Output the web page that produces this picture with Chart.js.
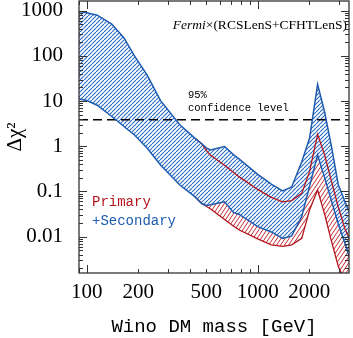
<!DOCTYPE html>
<html>
<head>
<meta charset="utf-8">
<script src="https://cdn.jsdelivr.net/npm/chart.js@4.4.1/dist/chart.umd.min.js"></script>
<style>
  html, body { margin: 0; padding: 0; background: #fff; }
</style>
</head>
<body>
<canvas id="chart" width="353" height="338"></canvas>
<script>
// ---- data ----
// Wino DM mass [GeV]
const mass = [90, 100, 115, 140, 165, 190, 225, 270, 350, 430, 470, 500, 530, 640, 720, 780,
              1000, 1200, 1400, 1580, 1810, 2010, 2240, 2460, 2700, 2960, 3240, 3500];
// Primary + Secondary band (blue)
const blueUpper = [960, 900, 795, 508, 250, 100, 38, 10.2, 3.0, 1.5, 1.14, 0.92, 0.83, 0.99, 0.655, 0.52,
                   0.24, 0.145, 0.103, 0.126, 0.456, 1.5, 23.5, 5.8, 1.0, 0.14, 0.059, 0.029];
const blueLower = [11.1, 10.3, 8.1, 4.56, 2.74, 1.78, 0.92, 0.385, 0.139, 0.076, 0.054, 0.049, 0.051, 0.059, 0.0345, 0.031,
                   0.0167, 0.0127, 0.0091, 0.0104, 0.028, 0.13, 0.64, 0.205, 0.062, 0.019, 0.0071, 0.0028];
// Primary band (red)
const massRed  = [430, 470, 500, 530, 640, 720, 780, 1000, 1200, 1400, 1580, 1810, 2010, 2240, 2460, 2700, 2960, 3240, 3500];
const redUpper = [1.5, 1.14, 0.81, 0.63, 0.38, 0.266, 0.21, 0.111, 0.074, 0.059, 0.063, 0.091, 0.274, 1.84, 0.65, 0.17, 0.045, 0.0148, 0.008];
const redLower = [0.076, 0.054, 0.047, 0.041, 0.024, 0.0172, 0.014, 0.0089, 0.0066, 0.0061, 0.0066, 0.0092, 0.039, 0.108, 0.032, 0.008, 0.0022, 0.001, 0.0006];

const xTicks = [100, 200, 500, 1000, 2000];
const yTicks = [0.01, 0.1, 1, 10, 100, 1000];
const xRange = [90, 3420];
const yRange = [0.00157, 1640];
const confLevel = 3.84;

const BLUE = "#1f5cb0";
const RED  = "#b3151d";

// hatch on white ground, so the band drawn on top hides the one below
function hatch(color, w, h, lw) {
    const c = document.createElement("canvas");
    c.width = w; c.height = h;
    const g = c.getContext("2d");
    g.fillStyle = "#fff";
    g.fillRect(0, 0, w, h);
    g.strokeStyle = color;
    g.lineWidth = lw;
    g.beginPath();
    for (const dx of [-w, 0, w]) {
        g.moveTo(dx, h);
        g.lineTo(dx + w, 0);
    }
    g.stroke();
    return g.createPattern(c, "repeat");
}

const pts = (xs, ys) => xs.map((m, i) => ({ x: m, y: ys[i] }));

// ---- inward ticks on all four sides, frame and text ----
const frameTicks = {
    id: "frameTicks",
    afterDatasetsDraw(chart) {
        const { ctx, chartArea: a, scales: { x, y } } = chart;
        ctx.save();
        ctx.strokeStyle = "#333";
        ctx.lineWidth = 1;
        const seg = (x1, y1, x2, y2) => { ctx.beginPath(); ctx.moveTo(x1, y1); ctx.lineTo(x2, y2); ctx.stroke(); };

        for (let d = Math.floor(Math.log10(x.min)); d <= Math.ceil(Math.log10(x.max)); d++) {
            for (let k = 1; k < 10; k++) {
                const v = k * Math.pow(10, d);
                if (v < x.min || v > x.max) continue;
                const px = Math.round(x.getPixelForValue(v)) + 0.5;
                const len = k === 1 ? 8 : 4;
                seg(px, a.bottom, px, a.bottom - len);
                seg(px, a.top, px, a.top + len);
            }
        }
        for (let d = Math.floor(Math.log10(y.min)); d <= Math.ceil(Math.log10(y.max)); d++) {
            for (let k = 1; k < 10; k++) {
                const v = k * Math.pow(10, d);
                if (v < y.min || v > y.max) continue;
                const py = Math.round(y.getPixelForValue(v)) + 0.5;
                const len = k === 1 ? 8 : 4;
                seg(a.left, py, a.left + len, py);
                seg(a.right, py, a.right - len, py);
            }
        }
        ctx.lineWidth = 1.3;
        ctx.strokeRect(a.left, a.top, a.right - a.left, a.bottom - a.top);
        ctx.restore();
    },
    afterDraw(chart) {
        const ctx = chart.ctx;
        ctx.save();
        ctx.textBaseline = "middle";
        ctx.textAlign = "left";

        // Fermi x (RCSLenS+CFHTLenS)
        const fItal = "italic 13.5px 'Liberation Serif'";
        const fRom  = "13.5px 'Liberation Serif'";
        const t1 = "Fermi", t2 = "\u00d7(RCSLenS+CFHTLenS)";
        ctx.font = fItal; const w1 = ctx.measureText(t1).width;
        ctx.font = fRom;  const w2 = ctx.measureText(t2).width;
        const x0 = 347 - w1 - w2;
        ctx.fillStyle = "#000";
        ctx.font = fItal; ctx.fillText(t1, x0, 25);
        ctx.font = fRom;  ctx.fillText(t2, x0 + w1, 25);

        ctx.font = "10.5px 'Liberation Mono'";
        ctx.fillText("95%", 188, 95);
        ctx.fillText("confidence level", 188, 108.5);

        ctx.font = "14px 'Liberation Mono'";
        ctx.fillStyle = RED;
        ctx.fillText("Primary", 92, 202);
        ctx.fillStyle = BLUE;
        ctx.fillText("+Secondary", 92, 221);
        ctx.restore();
    }
};

const ctx = document.getElementById("chart").getContext("2d");
new Chart(ctx, {
    type: "line",
    data: {
        datasets: [
            {
                label: "Primary+Secondary upper",
                data: pts(mass, blueUpper),
                borderColor: BLUE, borderWidth: 1.5,
                backgroundColor: hatch("#2a6cc4", 4, 4, 1.1),
                fill: "+1", pointRadius: 0, tension: 0
            },
            {
                label: "Primary+Secondary lower",
                data: pts(mass, blueLower),
                borderColor: BLUE, borderWidth: 1.5,
                fill: false, pointRadius: 0, tension: 0
            },
            {
                label: "Primary upper",
                data: pts(massRed, redUpper),
                borderColor: RED, borderWidth: 1.3,
                backgroundColor: hatch("#c42a32", 4, 6, 1.0),
                fill: "+1", pointRadius: 0, tension: 0
            },
            {
                label: "Primary lower",
                data: pts(massRed, redLower),
                borderColor: RED, borderWidth: 1.3,
                fill: false, pointRadius: 0, tension: 0
            },
            {
                label: "95% CL",
                data: [{ x: xRange[0], y: confLevel }, { x: xRange[1], y: confLevel }],
                borderColor: "#000", borderWidth: 1.5, borderDash: [9, 5],
                fill: false, pointRadius: 0
            }
        ]
    },
    options: {
        responsive: false,
        animation: false,
        layout: { padding: { top: 1, right: 4, left: 0, bottom: 0 } },
        plugins: {
            legend: { display: false },
            tooltip: { enabled: false },
            filler: { drawTime: "beforeDatasetsDraw" }
        },
        scales: {
            x: {
                type: "logarithmic",
                min: xRange[0], max: xRange[1],
                afterBuildTicks: s => { s.ticks = xTicks.map(v => ({ value: v })); },
                afterFit: s => { s.height = 65; s.paddingLeft = 0; s.paddingRight = 0; },
                grid: { display: false, drawTicks: false },
                border: { display: false },
                ticks: {
                    autoSkip: false, maxRotation: 0, padding: 7,
                    color: "#000",
                    font: { family: "'Liberation Serif'", size: 21 },
                    callback: v => String(v)
                },
                title: {
                    display: true, text: "Wino DM mass [GeV]", color: "#000",
                    font: { family: "'Liberation Mono'", size: 19 },
                    padding: { top: 0, bottom: 0 }
                }
            },
            y: {
                type: "logarithmic",
                min: yRange[0], max: yRange[1],
                afterBuildTicks: s => { s.ticks = yTicks.map(v => ({ value: v })); },
                afterFit: s => { s.width = 79; s.paddingTop = 0; s.paddingBottom = 0; },
                grid: { display: false, drawTicks: false },
                border: { display: false },
                ticks: {
                    autoSkip: false, padding: 16,
                    color: "#000",
                    font: { family: "'Liberation Serif'", size: 21 },
                    callback: v => String(v)
                },
                title: {
                    display: true, text: "\u0394\u03c7\u00b2", color: "#000",
                    font: { family: "'Liberation Serif'", size: 21 },
                    padding: { top: 3, bottom: 0 }
                }
            }
        }
    },
    plugins: [frameTicks]
});
</script>
</body>
</html>
